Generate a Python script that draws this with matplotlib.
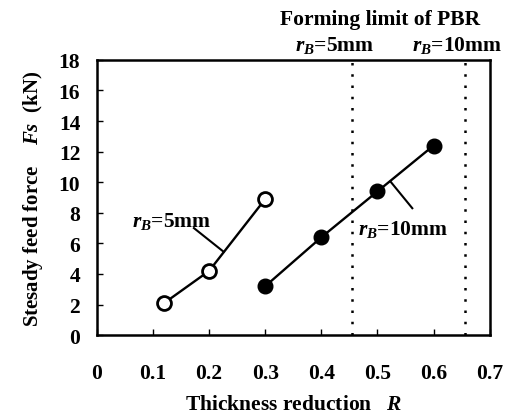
import matplotlib
matplotlib.use("Agg")
import matplotlib.pyplot as plt

# thickness reduction R and steady feed force Fs (kN)
r_5mm = [0.12, 0.20, 0.30]
fs_5mm = [2.1, 4.2, 8.9]
r_10mm = [0.30, 0.40, 0.50, 0.60]
fs_10mm = [3.2, 6.4, 9.4, 12.4]

# forming limits of PBR
limit_r = [0.455, 0.655]
limit_labels = ["$r_B$=5mm", "$r_B$=10mm"]

xticks = [0, 0.1, 0.2, 0.3, 0.4, 0.5, 0.6, 0.7]
yticks = [0, 2, 4, 6, 8, 10, 12, 14, 16, 18]

plt.rcParams['font.family'] = ['Liberation Serif', 'DejaVu Serif']
plt.rcParams['mathtext.fontset'] = 'custom'
plt.rcParams['mathtext.it'] = 'Liberation Serif:italic:bold'
plt.rcParams['mathtext.rm'] = 'Liberation Serif:bold'

fs = 15.5

fig = plt.figure(figsize=(5.15, 4.14), dpi=100)
ax = fig.add_axes([0.188, 0.188, 0.763, 0.665])

ax.plot(r_5mm, fs_5mm, '-', color='black', lw=1.7, marker='o', ms=10,
        mfc='white', mec='black', mew=2, zorder=3)
ax.plot(r_10mm, fs_10mm, '-', color='black', lw=1.7, marker='o', ms=10.5,
        mfc='black', mec='black', zorder=3)

for xv in limit_r:
    ax.axvline(xv, color='black', ls=(0, (1, 3.5)), lw=1.8, zorder=1)

ax.set_xlim(0, 0.7)
ax.set_ylim(0, 18)
ax.set_xticks(xticks)
ax.set_xticklabels([f"{v:g}" for v in xticks])
ax.set_yticks(yticks)
ax.tick_params(direction='in', length=4, width=1, labelsize=fs, top=False, right=False)
ax.tick_params(axis='x', pad=20)
ax.tick_params(axis='y', pad=12)
for lab in ax.get_xticklabels() + ax.get_yticklabels():
    lab.set_fontweight('bold')
for sp in ax.spines.values():
    sp.set_linewidth(1.8)

ax.set_xlabel("Thickness reduction   $R$", fontsize=fs, fontweight='bold', labelpad=8)
ax.set_ylabel("Stesady feed force    $Fs$  (kN)", fontsize=fs - 0.5, fontweight='bold', labelpad=10)

# annotations with leader lines
ax.text(0.063, 7.5, "$r_B$=5mm", fontsize=fs, fontweight='bold', va='center', ha='left')
ax.plot([0.173, 0.226], [7.0, 5.45], color='black', lw=1.5)
ax.text(0.466, 7.0, "$r_B$=10mm", fontsize=fs, fontweight='bold', va='center', ha='left')
ax.plot([0.562, 0.523], [8.3, 10.05], color='black', lw=1.5)

# forming limit labels above the frame
ax.text(0.72, 1.15, "Forming limit of PBR", transform=ax.transAxes, fontsize=fs,
        fontweight='bold', ha='center', va='center')
ax.text(0.424, 19.0, limit_labels[0], fontsize=fs, fontweight='bold', ha='center', va='center')
ax.text(0.642, 19.0, limit_labels[1], fontsize=fs, fontweight='bold', ha='center', va='center')

fig.savefig("out.png", dpi=100)
